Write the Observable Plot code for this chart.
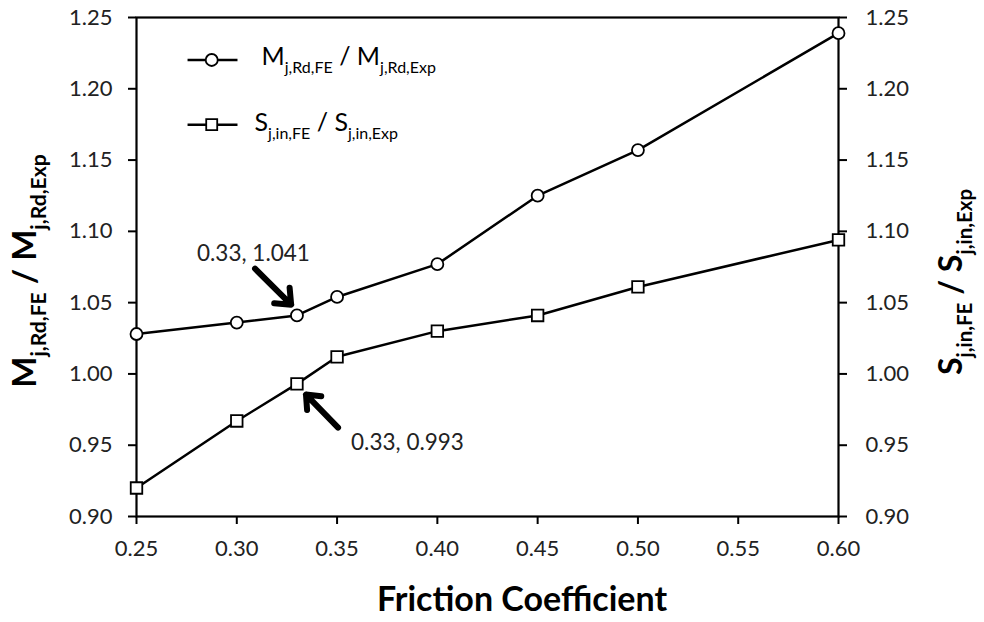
<!DOCTYPE html>
<html><head><meta charset="utf-8">
<script src="https://cdn.jsdelivr.net/npm/d3@7"></script>
<script src="https://cdn.jsdelivr.net/npm/@observablehq/plot@0.6"></script>
<style>body{margin:0;background:#fff;} #chart svg{display:block;}</style>
</head><body><div id="chart"></div>
<script>
// ---- data ----
const friction = [0.25, 0.30, 0.33, 0.35, 0.40, 0.45, 0.50, 0.60];
const mRatio   = [1.028, 1.036, 1.041, 1.054, 1.077, 1.125, 1.157, 1.239];
const sRatio   = [0.920, 0.967, 0.993, 1.012, 1.030, 1.041, 1.061, 1.094];
const xTicks = [0.25, 0.30, 0.35, 0.40, 0.45, 0.50, 0.55, 0.60];
const yTicks = [0.90, 0.95, 1.00, 1.05, 1.10, 1.15, 1.20, 1.25];
// annotations: label text, label position, arrow tail -> head (data units)
const annoText = ["0.33, 1.041", "0.33, 0.993"];
const annoLabelX = [0.3083, 0.3851];
const annoLabelY = [1.084, 0.9515];
const arrowX1 = [0.3091, 0.3505];
const arrowY1 = [1.0738, 0.9623];
const arrowX2 = [0.3271, 0.3345];
const arrowY2 = [1.0486, 0.9855];
// legend rows (data units)
const legendY = [1.2202, 1.1748];
const legendX1 = 0.2757, legendX2 = 0.3006, legendMarkX = 0.2875;
const legendTextX = [0.3126, 0.3091];

const mData = friction.map((x, i) => ({x, y: mRatio[i]}));
const sData = friction.map((x, i) => ({x, y: sRatio[i]}));
const annos = annoText.map((t, i) => ({t, lx: annoLabelX[i], ly: annoLabelY[i], x1: arrowX1[i], y1: arrowY1[i], x2: arrowX2[i], y2: arrowY2[i]}));

const FONT = "Lato, 'Open Sans', sans-serif";
const fmt = d => d.toFixed(2);

const chart = Plot.plot({
  width: 984, height: 622,
  marginLeft: 136, marginRight: 146, marginTop: 17, marginBottom: 106,
  style: {fontFamily: FONT, fontSize: "22px", color: "#222", background: "#fff"},
  x: {domain: [0.25, 0.60]},
  y: {domain: [0.90, 1.25]},
  marks: [
    Plot.axisX({ticks: xTicks, tickFormat: fmt, tickSize: 8, tickPadding: 16, label: null, strokeWidth: 2, stroke: "#000"}),
    Plot.axisY({anchor: "left", ticks: yTicks, tickFormat: fmt, tickSize: 8, tickPadding: 16, label: null, strokeWidth: 2, stroke: "#000"}),
    Plot.axisY({anchor: "right", ticks: yTicks, tickFormat: fmt, tickSize: 8, tickPadding: 19, label: null, strokeWidth: 2, stroke: "#000"}),
    Plot.frame({stroke: "#000", strokeWidth: 2.2}),
    Plot.line(mData, {x: "x", y: "y", stroke: "#000", strokeWidth: 2.5}),
    Plot.line(sData, {x: "x", y: "y", stroke: "#000", strokeWidth: 2.5}),
    Plot.dot(mData, {x: "x", y: "y", r: 6, symbol: "circle", fill: "#fff", stroke: "#000", strokeWidth: 1.8}),
    Plot.dot(sData, {x: "x", y: "y", r: 6.5, symbol: "square", fill: "#fff", stroke: "#000", strokeWidth: 1.8}),
    Plot.arrow(annos, {x1: "x1", y1: "y1", x2: "x2", y2: "y2", stroke: "#000", strokeWidth: 6, headLength: 13, headAngle: 80}),
    Plot.text(annos, {x: "lx", y: "ly", text: "t", fontSize: 22.5, fill: "#222"}),
    Plot.ruleY(legendY, {y: d => d, x1: legendX1, x2: legendX2, stroke: "#000", strokeWidth: 2.5}),
    Plot.dot([legendY[0]], {x: legendMarkX, y: d => d, r: 6, symbol: "circle", fill: "#fff", stroke: "#000", strokeWidth: 1.8}),
    Plot.dot([legendY[1]], {x: legendMarkX, y: d => d, r: 6.2, symbol: "square", fill: "#fff", stroke: "#000", strokeWidth: 1.8})
  ]
});
document.getElementById("chart").appendChild(chart);

// ---- texts with subscripts ----
const svg = d3.select(chart);
const xs = chart.scale("x"), ys = chart.scale("y");
function rich(g, parts, size, weight, anchor) {
  // parts alternate: main, subscript, main, subscript
  const t = g.append("text").attr("font-family", FONT).attr("font-weight", weight)
    .attr("fill", "#000").attr("text-anchor", anchor);
  parts.forEach((p, i) => {
    const isSub = i % 2 === 1;
    const prevSub = i > 0 && (i - 1) % 2 === 1;
    const ts = t.append("tspan").text(p).attr("font-size", isSub ? size * 0.64 : size);
    if (isSub) ts.attr("dy", size * 0.3);
    else if (prevSub) ts.attr("dy", -size * 0.3);
  });
  return t;
}
// legend labels
rich(svg.append("g"), ["M", "j,Rd,FE", " / M", "j,Rd,Exp"], 25, 400, "start")
  .attr("x", xs.apply(legendTextX[0])).attr("y", ys.apply(legendY[0]) + 6);
rich(svg.append("g"), ["S", "j,in,FE", " / S", "j,in,Exp"], 25, 400, "start")
  .attr("x", xs.apply(legendTextX[1])).attr("y", ys.apply(legendY[1]) + 7);
// left axis title
rich(svg.append("g").attr("transform", "translate(36,271) rotate(-90)"), ["M", "j,Rd,FE", " / M", "j,Rd,Exp"], 33, 700, "middle");
// right axis title
rich(svg.append("g").attr("transform", "translate(962,282) rotate(-90)"), ["S", "j,in,FE", " / S", "j,in,Exp"], 32, 700, "middle");
// x axis title
svg.append("text").text("Friction Coefficient")
  .attr("x", 522).attr("y", 611)
  .attr("text-anchor", "middle").attr("font-family", FONT).attr("font-weight", 700)
  .attr("font-size", 34).attr("fill", "#000");
</script>
</body></html>
